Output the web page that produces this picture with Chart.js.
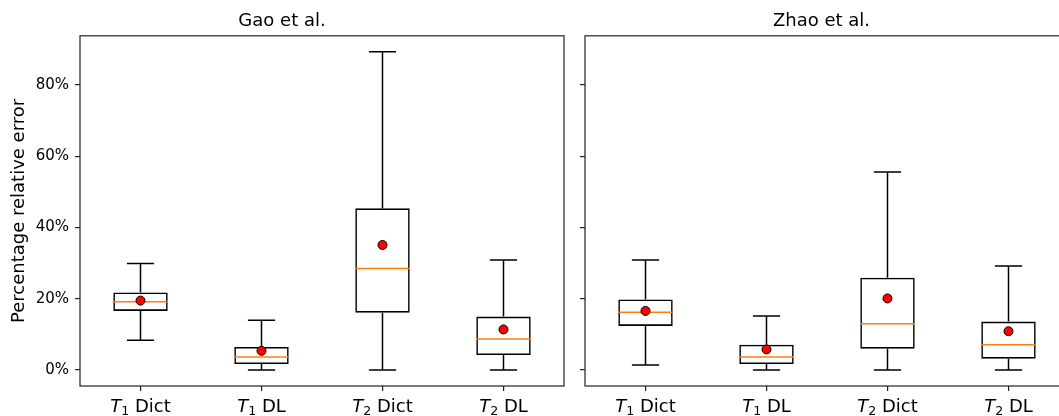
<!DOCTYPE html>
<html>
<head>
<meta charset="utf-8">
<script src="https://cdn.jsdelivr.net/npm/chart.js@4.4.0/dist/chart.umd.min.js"></script>
<style>
  html, body { margin: 0; padding: 0; background: #fff; overflow: hidden; }
  #wrap { position: relative; width: 1059px; height: 416px; overflow: hidden; }
  canvas { position: absolute; top: 0; }
  #gao { left: 0; }
  #zhao { left: 574px; }
</style>
</head>
<body>
<div id="wrap">
  <canvas id="gao" width="574" height="416"></canvas>
  <canvas id="zhao" width="505" height="416"></canvas>
</div>
<script>
const categories = ['T₁ Dict', 'T₁ DL', 'T₂ Dict', 'T₂ DL'];
const catSub = ['1', '1', '2', '2'];
const catName = ['Dict', 'DL', 'Dict', 'DL'];

const yTicks = [0, 20, 40, 60, 80];
const yMin = -4.47;
const yMax = 93.8;

// Gao et al.
const gaoMin = [8.4, 0, 0, 0];
const gaoQ1 = [16.6, 1.7, 16.1, 4.2];
const gaoMedian = [19.2, 3.7, 28.5, 8.7];
const gaoQ3 = [21.8, 6.5, 45.4, 15.0];
const gaoMax = [29.9, 14.0, 89.3, 30.9];
const gaoMean = [19.5, 5.4, 35.1, 11.4];

// Zhao et al.
const zhaoMin = [1.4, 0, 0, 0];
const zhaoQ1 = [12.4, 1.7, 6.0, 3.2];
const zhaoMedian = [16.2, 3.7, 13.0, 7.1];
const zhaoQ3 = [19.8, 7.1, 25.9, 13.6];
const zhaoMax = [30.9, 15.2, 55.6, 29.2];
const zhaoMean = [16.6, 5.8, 20.1, 10.9];

const FONT = "'DejaVu Sans', sans-serif";
const INK = '#000';
const SPINE = '#222';

// whiskers, caps and medians, drawn right after the boxes
const boxWhiskers = {
  id: 'boxWhiskers',
  afterDatasetDraw(chart, args, opts) {
    if (args.index !== 1) return;
    const ctx = chart.ctx;
    const y = chart.scales.y;
    ctx.save();
    args.meta.data.forEach((bar, i) => {
      const x = bar.x;
      const half = bar.width / 2;
      const cap = half / 2;
      ctx.strokeStyle = INK;
      ctx.lineWidth = 1.5;
      ctx.beginPath();
      ctx.moveTo(x, y.getPixelForValue(opts.q3[i]));
      ctx.lineTo(x, y.getPixelForValue(opts.hi[i]));
      ctx.moveTo(x, y.getPixelForValue(opts.q1[i]));
      ctx.lineTo(x, y.getPixelForValue(opts.lo[i]));
      ctx.moveTo(x - cap, y.getPixelForValue(opts.hi[i]));
      ctx.lineTo(x + cap, y.getPixelForValue(opts.hi[i]));
      ctx.moveTo(x - cap, y.getPixelForValue(opts.lo[i]));
      ctx.lineTo(x + cap, y.getPixelForValue(opts.lo[i]));
      ctx.stroke();
      ctx.strokeStyle = '#ff7f0e';
      ctx.beginPath();
      ctx.moveTo(x - half, y.getPixelForValue(opts.median[i]));
      ctx.lineTo(x + half, y.getPixelForValue(opts.median[i]));
      ctx.stroke();
    });
    ctx.restore();
  }
};

const frame = {
  id: 'frame',
  afterDraw(chart) {
    const a = chart.chartArea;
    const ctx = chart.ctx;
    ctx.save();
    ctx.strokeStyle = SPINE;
    ctx.lineWidth = 1.2;
    ctx.strokeRect(a.left, a.top, a.right - a.left, a.bottom - a.top);
    ctx.restore();
  }
};

// x labels with italic T and subscript index
const mathLabels = {
  id: 'mathLabels',
  afterDraw(chart) {
    const ctx = chart.ctx;
    const xs = chart.scales.x;
    const base = 411.5;
    ctx.save();
    ctx.fillStyle = INK;
    ctx.textBaseline = 'alphabetic';
    ctx.textAlign = 'left';
    categories.forEach((c, i) => {
      const fMain = '18px ' + FONT;
      const fIt = 'oblique 18px ' + FONT;
      const fSub = '12.6px ' + FONT;
      ctx.font = fIt; const wT = ctx.measureText('T').width;
      ctx.font = fSub; const wS = ctx.measureText(catSub[i]).width;
      ctx.font = fMain; const wN = ctx.measureText(' ' + catName[i]).width;
      let x = xs.getPixelForTick(i) - (wT + wS + wN) / 2;
      ctx.font = fIt; ctx.fillText('T', x, base); x += wT;
      ctx.font = fSub; ctx.fillText(catSub[i], x, base + 3); x += wS;
      ctx.font = fMain; ctx.fillText(' ' + catName[i], x, base);
    });
    ctx.restore();
  }
};

function makePanel(id, title, lo, q1, median, q3, hi, mean, first) {
  return new Chart(document.getElementById(id), {
    type: 'bar',
    data: {
      labels: categories,
      datasets: [
        {
          type: 'line',
          data: mean,
          showLine: false,
          pointRadius: 4.5,
          pointBackgroundColor: '#ff0000',
          pointBorderColor: '#000',
          pointBorderWidth: 1
        },
        {
          data: q1.map((v, i) => [v, q3[i]]),
          backgroundColor: 'rgba(0,0,0,0)',
          borderColor: INK,
          borderWidth: 1.6,
          borderSkipped: false,
          barPercentage: 0.45,
          categoryPercentage: 1
        }
      ]
    },
    options: {
      responsive: false,
      animation: false,
      layout: { padding: { right: 10 } },
      plugins: {
        legend: { display: false },
        tooltip: { enabled: false },
        title: {
          display: true,
          text: title,
          color: INK,
          font: { family: FONT, size: 18, weight: 'normal' },
          padding: { top: 11, bottom: 3.2 }
        },
        boxWhiskers: { lo: lo, q1: q1, median: median, q3: q3, hi: hi }
      },
      scales: {
        x: {
          offset: true,
          border: { display: false },
          grid: { display: true, drawOnChartArea: false, drawTicks: true, tickLength: 5, offset: false, color: SPINE, lineWidth: 1.2 },
          ticks: { color: 'rgba(0,0,0,0)', font: { family: FONT, size: 18 }, autoSkip: false, maxRotation: 0 },
          afterFit(scale) { scale.height = 30; }
        },
        y: {
          min: yMin,
          max: yMax,
          border: { display: false },
          grid: { display: true, drawOnChartArea: false, drawTicks: true, tickLength: 5, color: SPINE, lineWidth: 1.2 },
          ticks: {
            color: INK,
            padding: 6,
            font: { family: FONT, size: 15 },
            callback: (v) => first ? v + '%' : ''
          },
          title: {
            display: first,
            text: 'Percentage relative error',
            color: INK,
            font: { family: FONT, size: 18 },
            padding: { top: 8.7, bottom: 0 }
          },
          afterBuildTicks(scale) { scale.ticks = yTicks.map(v => ({ value: v })); },
          afterFit(scale) { scale.width = first ? 80 : 11; }
        }
      }
    },
    plugins: [boxWhiskers, frame, mathLabels]
  });
}

makePanel('gao', 'Gao et al.', gaoMin, gaoQ1, gaoMedian, gaoQ3, gaoMax, gaoMean, true);
makePanel('zhao', 'Zhao et al.', zhaoMin, zhaoQ1, zhaoMedian, zhaoQ3, zhaoMax, zhaoMean, false);
</script>
</body>
</html>
